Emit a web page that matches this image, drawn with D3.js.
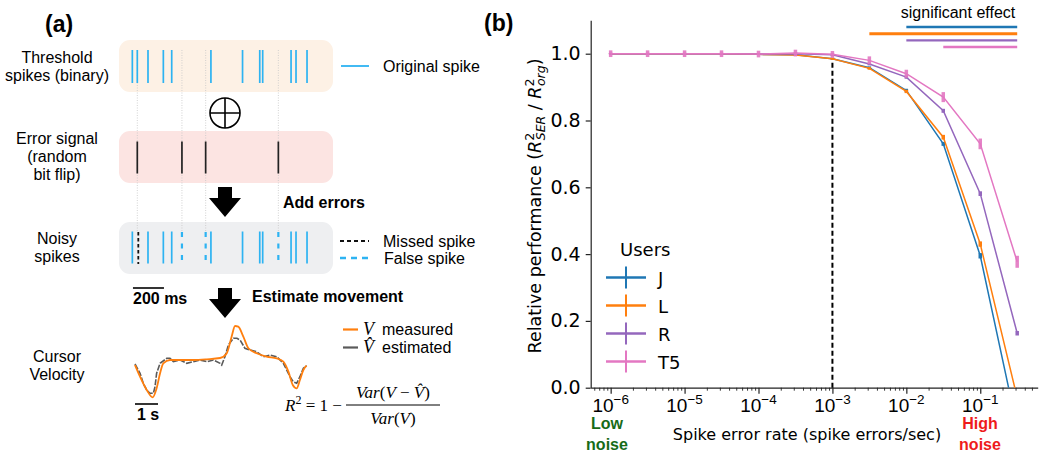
<!DOCTYPE html>
<html><head><meta charset="utf-8">
<script src="https://cdn.jsdelivr.net/npm/d3@7"></script>
<style>body{margin:0;background:#fff} svg{display:block}</style>
</head><body><div id="chart"></div>
<script>
// ---- panel (b) data ----
const rates = [1e-6, 3.16e-6, 1e-5, 3.16e-5, 1e-4, 3.16e-4, 1e-3, 3.16e-3, 1e-2, 3.16e-2, 1e-1, 3.16e-1];
const users = ["J", "L", "R", "T5"];
const perfJ  = [1.0, 1.0, 1.0, 1.0, 0.998, 0.997, 0.985, 0.958, 0.89, 0.73, 0.395, -0.12];
const perfL  = [1.0, 1.0, 1.0, 1.0, 0.998, 0.996, 0.985, 0.956, 0.887, 0.75, 0.43, -0.03];
const perfR  = [1.0, 1.0, 1.0, 1.0, 0.999, 1.0, 0.997, 0.969, 0.93, 0.829, 0.581, 0.163];
const perfT5 = [1.0, 1.0, 1.0, 1.0, 0.999, 1.002, 0.998, 0.98, 0.94, 0.87, 0.73, 0.377];
const errJ  = [0.002, 0.002, 0.002, 0.002, 0.002, 0.003, 0.003, 0.004, 0.005, 0.006, 0.008, 0.01];
const errL  = [0.002, 0.002, 0.002, 0.002, 0.002, 0.003, 0.003, 0.004, 0.005, 0.007, 0.008, 0.01];
const errR  = [0.003, 0.003, 0.003, 0.003, 0.003, 0.004, 0.004, 0.004, 0.005, 0.006, 0.007, 0.007];
const errT5 = [0.01, 0.01, 0.01, 0.01, 0.01, 0.01, 0.01, 0.012, 0.012, 0.015, 0.016, 0.018];
const sigStart = [1e-2, 3.16e-3, 1e-2, 3.16e-2];
const sigEnd = 3.16e-1;
const sigLevel = [1.08, 1.06, 1.04, 1.02];
const xTickVals = [1e-6, 1e-5, 1e-4, 1e-3, 1e-2, 1e-1];
const xTickExp = ["\u22126", "\u22125", "\u22124", "\u22123", "\u22122", "\u22121"];
const yTickVals = [0, 0.2, 0.4, 0.6, 0.8, 1.0];
const thresholdRate = 1e-3;
const thresholdTop = 0.98;

// ---- panel (a) data ----
const origSpikes = [28, 60, 129, 228, 282, 535, 739, 850, 869, 1052, 1084, 1155]; // ms
const errorSpikes = [60, 348, 501, 970]; // ms
const velT = [0, 0.22, 0.51, 0.77, 0.94, 1.09, 1.23, 1.52, 1.96, 2.54, 3.12, 3.70, 3.99, 4.20, 4.35, 4.49, 4.71, 4.93, 5.29, 5.72, 6.16, 6.45, 6.67, 6.86, 7.03, 7.17, 7.32, 7.46];
const velMeasured = [-0.5, -1.67, -3.0, -3.73, -2.83, -1.33, -0.33, 0, 0, 0, 0.07, 0.2, 0.67, 2.33, 3.4, 3.33, 2.33, 1.17, 0.67, 0.33, 0.17, -0.17, -1.17, -2.5, -2.83, -2.0, -1.0, -0.57];
const estT = [0, 0.22, 0.36, 0.51, 0.65, 0.80, 0.87, 0.94, 1.09, 1.38, 1.52, 1.67, 1.96, 2.25, 2.54, 2.83, 3.12, 3.41, 3.70, 3.77, 3.91, 4.06, 4.28, 4.43, 4.57, 4.78, 5.0, 5.29, 5.58, 5.87, 6.16, 6.45, 6.74, 6.88, 7.03, 7.17, 7.32, 7.46];
const velEstimated = [-0.4, -1.33, -2.33, -3.0, -3.33, -3.33, -2.67, -1.33, -0.33, 0.17, 0.17, -0.17, 0, -0.33, -0.17, 0, -0.17, 0, -0.33, -0.5, 0.33, 1.5, 2.17, 2.17, 2.0, 1.17, 1.0, 0.83, 0.33, 0.5, 0.33, -0.33, -1.67, -2.17, -2.33, -1.67, -0.83, -0.57];

const colors = {J: "#1f77b4", L: "#ff7f0e", R: "#9467bd", T5: "#e377c2"};
const perf = {J: perfJ, L: perfL, R: perfR, T5: perfT5};
const errs = {J: errJ, L: errL, R: errR, T5: errT5};
const spikeBlue = "#2db3f2";
const sans = "'Liberation Sans', Arial, sans-serif";
const dv = "'DejaVu Sans', sans-serif";
const serif = "'Liberation Serif', 'DejaVu Serif', serif";

const svg = d3.select("#chart").append("svg")
    .attr("width", 1050)
    .attr("height", 455);

// ================= panel (b) =================
const x = d3.scaleLog().domain([Math.pow(10, -6.27), Math.pow(10, -0.223)]).range([590.7, 1037.7]);
const y = d3.scaleLinear().domain([0, 1.1]).range([387.7, 20.3]);

svg.append("defs").append("clipPath").attr("id", "plotclip")
  .append("rect")
    .attr("x", x.range()[0]).attr("y", 0)
    .attr("width", x.range()[1] - x.range()[0])
    .attr("height", y(0));

// y axis
const yAxis = svg.append("g")
    .attr("transform", "translate(" + x.range()[0] + ",0)")
    .call(d3.axisLeft(y).tickValues(yTickVals).tickFormat(d3.format(".1f")).tickSize(5).tickSizeOuter(0));
yAxis.selectAll("text").attr("font-family", dv).attr("font-size", 19).attr("fill", "#000").attr("dx", "-2");
yAxis.selectAll("line, path").attr("stroke", "#222").attr("stroke-width", 1.2);

// x axis, major + minor ticks
const minorTicks = x.ticks().filter(d => Math.abs(Math.log10(d) - Math.round(Math.log10(d))) > 1e-6);
const xMinor = svg.append("g")
    .attr("transform", "translate(0," + y(0) + ")")
    .call(d3.axisBottom(x).tickValues(minorTicks).tickFormat("").tickSize(3).tickSizeOuter(0));
xMinor.select(".domain").remove();
xMinor.selectAll("line").attr("stroke", "#222").attr("stroke-width", 0.9);

const xAxis = svg.append("g")
    .attr("transform", "translate(0," + y(0) + ")")
    .call(d3.axisBottom(x).tickValues(xTickVals).tickFormat("").tickSize(6).tickSizeOuter(0));
xAxis.selectAll("line, path").attr("stroke", "#222").attr("stroke-width", 1.2);

xTickVals.forEach(function(v, i) {
  const t = svg.append("text")
      .attr("x", x(v)).attr("y", 411.5)
      .attr("text-anchor", "middle")
      .attr("font-family", sans)
      .attr("font-size", 19);
  t.append("tspan").text("10");
  t.append("tspan").attr("dy", -8).attr("font-size", 13.5).text(xTickExp[i]);
});

// threshold dashed line
svg.append("line")
    .attr("x1", x(thresholdRate)).attr("x2", x(thresholdRate))
    .attr("y1", y(0)).attr("y2", y(thresholdTop))
    .attr("stroke", "#000").attr("stroke-width", 2)
    .attr("stroke-dasharray", "5,3");

// series
const plot = svg.append("g").attr("clip-path", "url(#plotclip)");
users.forEach(function(u) {
  const pts = rates.map((r, i) => ({r: r, v: perf[u][i], e: errs[u][i]}));
  plot.append("path")
      .datum(pts)
      .attr("fill", "none")
      .attr("stroke", colors[u])
      .attr("stroke-width", 1.5)
      .attr("d", d3.line().x(d => x(d.r)).y(d => y(d.v)));
  plot.selectAll(".eb" + u)
    .data(pts)
    .enter()
    .append("line")
      .attr("x1", d => x(d.r)).attr("x2", d => x(d.r))
      .attr("y1", d => y(d.v - d.e)).attr("y2", d => y(d.v + d.e))
      .attr("stroke", colors[u])
      .attr("stroke-width", 3.5)
      .attr("opacity", u == "T5" ? 0.9 : 1);
});

// significance bars
svg.append("text")
    .attr("x", 958).attr("y", 18)
    .attr("text-anchor", "middle")
    .attr("font-family", sans)
    .attr("font-size", 16)
    .text("significant effect");
users.forEach(function(u, i) {
  svg.append("line")
      .attr("x1", x(sigStart[i])).attr("x2", x(sigEnd))
      .attr("y1", y(sigLevel[i])).attr("y2", y(sigLevel[i]))
      .attr("stroke", colors[u])
      .attr("stroke-width", u == "L" ? 3 : 2.3);
});

// legend
svg.append("text")
    .attr("x", 620).attr("y", 256)
    .attr("font-family", dv).attr("font-size", 18)
    .text("Users");
users.forEach(function(u, i) {
  const ly = 277.5 + i * 28;
  const g = svg.append("g");
  g.append("line").attr("x1", 606).attr("x2", 646).attr("y1", ly).attr("y2", ly)
      .attr("stroke", colors[u]).attr("stroke-width", 2.5);
  g.append("line").attr("x1", 626).attr("x2", 626).attr("y1", ly - 11).attr("y2", ly + 11)
      .attr("stroke", colors[u]).attr("stroke-width", 2);
  g.append("text").attr("x", 658).attr("y", ly + 7)
      .attr("font-family", dv).attr("font-size", 18)
      .text(u);
});

// axis labels
svg.append("text")
    .attr("x", 807).attr("y", 440)
    .attr("text-anchor", "middle")
    .attr("font-family", dv).attr("font-size", 16)
    .text("Spike error rate (spike errors/sec)");

const yl = svg.append("text")
    .attr("transform", "translate(541,206) rotate(-90)")
    .attr("text-anchor", "middle")
    .attr("font-family", dv).attr("font-size", 17.5);
yl.append("tspan").text("Relative performance (");
yl.append("tspan").attr("font-style", "italic").text("R");
yl.append("tspan").attr("font-size", 12.5).attr("dy", -7).text("2");
yl.append("tspan").attr("font-size", 12.5).attr("font-style", "italic").attr("dx", -7.5).attr("dy", 11).text("SER");
yl.append("tspan").attr("dy", -4).text(" / ");
yl.append("tspan").attr("font-style", "italic").text("R");
yl.append("tspan").attr("font-size", 12.5).attr("dy", -7).text("2");
yl.append("tspan").attr("font-size", 12.5).attr("font-style", "italic").attr("dx", -7.5).attr("dy", 11).text("org");
yl.append("tspan").attr("dy", -4).text(")");

// noise annotations
[["Low", "noise", 607, "#176b17"], ["High", "noise", 980, "#ee1b1b"]].forEach(function(a) {
  const t = svg.append("text")
      .attr("text-anchor", "middle")
      .attr("font-family", sans).attr("font-weight", "bold").attr("font-size", 16)
      .attr("fill", a[3]);
  t.append("tspan").attr("x", a[2]).attr("y", 429).text(a[0]);
  t.append("tspan").attr("x", a[2]).attr("y", 450).text(a[1]);
});

svg.append("text").attr("x", 484).attr("y", 31)
    .attr("font-family", sans).attr("font-weight", "bold").attr("font-size", 23)
    .text("(b)");

// ================= panel (a) =================
svg.append("text").attr("x", 45).attr("y", 32)
    .attr("font-family", sans).attr("font-weight", "bold").attr("font-size", 23)
    .text("(a)");

const tSpk = d3.scaleLinear().domain([0, 1000]).range([128, 283]);

// boxes
[[40, "#fdf1e5"], [131, "#fce4e2"], [222, "#eeeff1"]].forEach(function(b) {
  svg.append("rect").attr("x", 119).attr("y", b[0]).attr("width", 214).attr("height", 52)
      .attr("rx", 11).attr("fill", b[1]);
});

// faint guides at error positions
svg.selectAll(".guide")
  .data(errorSpikes)
  .enter()
  .append("line")
    .attr("x1", d => tSpk(d)).attr("x2", d => tSpk(d))
    .attr("y1", 50).attr("y2", 232)
    .attr("stroke", "#c8c8c8").attr("stroke-width", 0.8)
    .attr("stroke-dasharray", "1,1.5");

// threshold spikes
svg.selectAll(".orig")
  .data(origSpikes)
  .enter()
  .append("line")
    .attr("x1", d => tSpk(d)).attr("x2", d => tSpk(d))
    .attr("y1", 50).attr("y2", 83)
    .attr("stroke", spikeBlue).attr("stroke-width", 1.7);

// error spikes
svg.selectAll(".err")
  .data(errorSpikes)
  .enter()
  .append("line")
    .attr("x1", d => tSpk(d)).attr("x2", d => tSpk(d))
    .attr("y1", 141.5).attr("y2", 173.5)
    .attr("stroke", "#222").attr("stroke-width", 1.7);

// noisy spikes = orig XOR error
const kept = origSpikes.filter(d => errorSpikes.indexOf(d) < 0);
const missed = origSpikes.filter(d => errorSpikes.indexOf(d) >= 0);
const falseSp = errorSpikes.filter(d => origSpikes.indexOf(d) < 0);
svg.selectAll(".kept").data(kept).enter().append("line")
    .attr("x1", d => tSpk(d)).attr("x2", d => tSpk(d))
    .attr("y1", 231.5).attr("y2", 263.5)
    .attr("stroke", spikeBlue).attr("stroke-width", 1.7);
svg.selectAll(".missed").data(missed).enter().append("line")
    .attr("x1", d => tSpk(d) + 1).attr("x2", d => tSpk(d) + 1)
    .attr("y1", 232).attr("y2", 264)
    .attr("stroke", "#111").attr("stroke-width", 1.8).attr("stroke-dasharray", "3.5,2.5");
svg.selectAll(".false").data(falseSp).enter().append("line")
    .attr("x1", d => tSpk(d)).attr("x2", d => tSpk(d))
    .attr("y1", 232).attr("y2", 264)
    .attr("stroke", spikeBlue).attr("stroke-width", 2.2).attr("stroke-dasharray", "5,6.5");

// XOR symbol
svg.append("circle").attr("cx", 225).attr("cy", 113).attr("r", 15)
    .attr("fill", "none").attr("stroke", "#000").attr("stroke-width", 1.6);
svg.append("path").attr("d", "M210,113H240M225,98V128")
    .attr("stroke", "#000").attr("stroke-width", 1.6);

// arrows
function arrow(cx, top) {
  svg.append("path")
      .attr("d", "M" + (cx - 7) + "," + top + "H" + (cx + 7) + "V" + (top + 11) + "H" + (cx + 16) +
            "L" + cx + "," + (top + 30) + "L" + (cx - 16) + "," + (top + 11) + "H" + (cx - 7) + "Z")
      .attr("fill", "#000");
}
arrow(225, 187);
arrow(225, 288);

svg.append("text").attr("x", 283).attr("y", 208)
    .attr("font-family", sans).attr("font-weight", "bold").attr("font-size", 16)
    .text("Add errors");
svg.append("text").attr("x", 252).attr("y", 302)
    .attr("font-family", sans).attr("font-weight", "bold").attr("font-size", 16)
    .text("Estimate movement");

// scale bar 200 ms
svg.append("line").attr("x1", tSpk(32)).attr("x2", tSpk(232)).attr("y1", 288).attr("y2", 288)
    .attr("stroke", "#000").attr("stroke-width", 1.6);
svg.append("text").attr("x", 133).attr("y", 304)
    .attr("font-family", sans).attr("font-weight", "bold").attr("font-size", 16)
    .text("200 ms");

// left labels
[[["Threshold", "spikes (binary)"], 63],
 [["Error signal", "(random", "bit flip)"], 144],
 [["Noisy", "spikes"], 244],
 [["Cursor", "Velocity"], 362]].forEach(function(l) {
  const t = svg.append("text").attr("text-anchor", "middle")
      .attr("font-family", sans).attr("font-size", 16);
  l[0].forEach((s, i) => t.append("tspan").attr("x", 57).attr("y", l[1] + i * 18).text(s));
});

// right legend (spikes)
svg.append("line").attr("x1", 341).attr("x2", 369).attr("y1", 66).attr("y2", 66)
    .attr("stroke", spikeBlue).attr("stroke-width", 1.8);
svg.append("text").attr("x", 383).attr("y", 72).attr("font-family", sans).attr("font-size", 16)
    .text("Original spike");
svg.append("line").attr("x1", 340).attr("x2", 369).attr("y1", 241).attr("y2", 241)
    .attr("stroke", "#111").attr("stroke-width", 1.8).attr("stroke-dasharray", "4,3");
svg.append("text").attr("x", 383).attr("y", 246.5).attr("font-family", sans).attr("font-size", 16)
    .text("Missed spike");
svg.append("line").attr("x1", 340).attr("x2", 369).attr("y1", 258).attr("y2", 258)
    .attr("stroke", spikeBlue).attr("stroke-width", 2.4).attr("stroke-dasharray", "6,5");
svg.append("text").attr("x", 384).attr("y", 264).attr("font-family", sans).attr("font-size", 16)
    .text("False spike");

// velocity traces
const tVel = d3.scaleLinear().domain([0, 1]).range([135, 158]);
const vVel = d3.scaleLinear().domain([0, 1]).range([360, 350]);
svg.append("path")
    .datum(estT.map((t, i) => [t, velEstimated[i]]))
    .attr("fill", "none").attr("stroke", "#5a5a5a").attr("stroke-width", 1.6)
    .attr("stroke-dasharray", "6,1.5")
    .attr("d", d3.line().x(d => tVel(d[0])).y(d => vVel(d[1])));
svg.append("path")
    .datum(velT.map((t, i) => [t, velMeasured[i]]))
    .attr("fill", "none").attr("stroke", "#ff7f0e").attr("stroke-width", 1.8)
    .attr("d", d3.line().curve(d3.curveMonotoneX).x(d => tVel(d[0])).y(d => vVel(d[1])));

// 1 s scale bar
svg.append("line").attr("x1", tVel(0)).attr("x2", tVel(1)).attr("y1", 404).attr("y2", 404)
    .attr("stroke", "#000").attr("stroke-width", 1.6);
svg.append("text").attr("x", 137).attr("y", 420)
    .attr("font-family", sans).attr("font-weight", "bold").attr("font-size", 16)
    .text("1 s");

// velocity legend
svg.append("line").attr("x1", 343).attr("x2", 358).attr("y1", 329.5).attr("y2", 329.5)
    .attr("stroke", "#ff7f0e").attr("stroke-width", 2.2);
svg.append("line").attr("x1", 343).attr("x2", 358).attr("y1", 347.5).attr("y2", 347.5)
    .attr("stroke", "#5a5a5a").attr("stroke-width", 2.2);
const lv1 = svg.append("text").attr("x", 363).attr("y", 335).attr("font-size", 16);
lv1.append("tspan").attr("font-family", serif).attr("font-style", "italic").attr("font-size", 18).text("V");
lv1.append("tspan").attr("font-family", sans).attr("dx", 8).text("measured");
const lv2 = svg.append("text").attr("x", 363).attr("y", 353).attr("font-size", 16);
lv2.append("tspan").attr("font-family", serif).attr("font-style", "italic").attr("font-size", 18).text("V\u0302");
lv2.append("tspan").attr("font-family", sans).attr("dx", 8).text("estimated");

// formula
const f = svg.append("text").attr("x", 285).attr("y", 411).attr("font-family", serif).attr("font-size", 17);
f.append("tspan").attr("font-style", "italic").text("R");
f.append("tspan").attr("font-size", 12).attr("dy", -7).text("2");
f.append("tspan").attr("dy", 7).text(" = 1 \u2212 ");
svg.append("line").attr("x1", 346).attr("x2", 440).attr("y1", 405).attr("y2", 405)
    .attr("stroke", "#000").attr("stroke-width", 1);
const num = svg.append("text").attr("x", 393).attr("y", 398).attr("text-anchor", "middle")
    .attr("font-family", serif).attr("font-size", 17);
num.append("tspan").attr("font-style", "italic").text("Var");
num.append("tspan").text("(");
num.append("tspan").attr("font-style", "italic").text("V");
num.append("tspan").text(" \u2212 ");
num.append("tspan").attr("font-style", "italic").text("V\u0302");
num.append("tspan").text(")");
const den = svg.append("text").attr("x", 393).attr("y", 424).attr("text-anchor", "middle")
    .attr("font-family", serif).attr("font-size", 17);
den.append("tspan").attr("font-style", "italic").text("Var");
den.append("tspan").text("(");
den.append("tspan").attr("font-style", "italic").text("V");
den.append("tspan").text(")");
</script>
</body></html>
